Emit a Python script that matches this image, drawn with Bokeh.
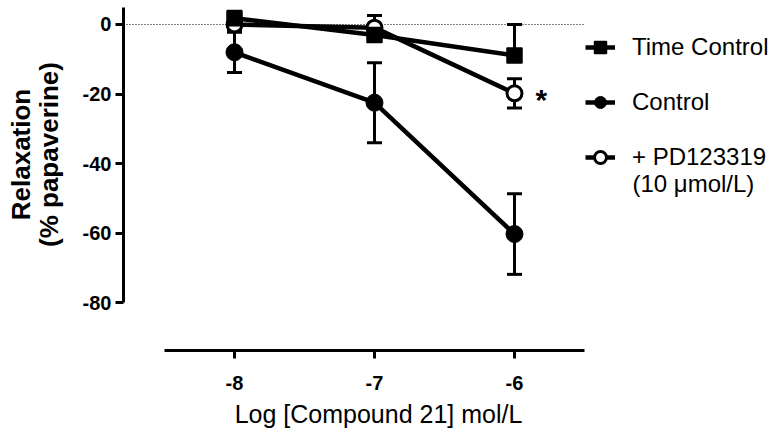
import math
from bokeh.plotting import figure
from bokeh.models import (ColumnDataSource, Whisker, TeeHead, Legend, LegendItem,
                          Label, Range1d, FixedTicker)
from bokeh.embed import file_html
from bokeh.resources import INLINE

# ---------------- data ----------------
log_conc = [-8, -7, -6]
x_ticks = [-8, -7, -6]
y_ticks = [0, -20, -40, -60, -80]

time_control = [1.8, -3.0, -8.9]
time_control_err = [2.0, 2.0, 8.9]
control = [-8.0, -22.5, -60.3]
control_err = [5.8, 11.5, 11.6]
pd123319 = [0.0, -0.9, -19.8]
pd123319_err = [1.5, 3.5, 4.2]

series_labels = ["Time Control", "Control", "+ PD123319"]
pd_label_line2 = "(10 \u03bcmol/L)"
signif_mark = "*"
x_label = "Log [Compound 21] mol/L"
y_label_lines = ["Relaxation", "(% papaverine)"]

# ---------------- layout constants ----------------
W, H = 773, 430
X_START, X_END = -9.6714, -4.15
Y_START, Y_END = -116.83, 6.906
Y_AXIS_AT = -8.7929          # data x where the (detached) y axis sits
X_AXIS_AT = -93.81           # data y where the (detached) x axis sits
X_AXIS_BOUNDS = (-8.5, -5.5)
Y_AXIS_BOUNDS = (-80, 4.9)
FONT = "Liberation Sans"

p = figure(width=W, height=H, output_backend="svg", toolbar_location=None,
           x_range=Range1d(X_START, X_END), y_range=Range1d(Y_START, Y_END),
           min_border_left=0, min_border_right=0, min_border_top=0,
           min_border_bottom=0)
p.grid.visible = False
p.outline_line_color = None
p.background_fill_color = "white"
p.border_fill_color = "white"

xa = p.xaxis[0]
ya = p.yaxis[0]
xa.fixed_location = X_AXIS_AT
ya.fixed_location = Y_AXIS_AT
xa.ticker = FixedTicker(ticks=x_ticks)
ya.ticker = FixedTicker(ticks=y_ticks)
xa.major_label_overrides = {t: str(t) for t in x_ticks}
ya.major_label_overrides = {t: str(t) for t in y_ticks}
xa.bounds = X_AXIS_BOUNDS
ya.bounds = Y_AXIS_BOUNDS
for ax in (xa, ya):
    ax.axis_line_width = 3
    ax.axis_line_color = "black"
    ax.major_tick_line_width = 3
    ax.major_tick_line_color = "black"
    ax.major_tick_out = 8
    ax.major_tick_in = 0
    ax.minor_tick_line_color = None
    ax.major_label_text_font = FONT
    ax.major_label_text_font_style = "bold"
    ax.major_label_text_font_size = "20px"
    ax.major_label_text_color = "black"
xa.major_label_standoff = 17
ya.major_label_standoff = 4

# axis titles
p.add_layout(Label(x=sum(X_AXIS_BOUNDS) / 2, x_offset=4, y=H - 413,
                   y_units="screen", text=x_label, text_font=FONT,
                   text_font_size="25px", text_align="center",
                   text_baseline="middle", text_color="black"))
for txt, sx in zip(y_label_lines, [20, 48]):
    p.add_layout(Label(x=sx, x_units="screen", y=H - 154, y_units="screen",
                       text=txt, text_font=FONT, text_font_size="26px",
                       text_font_style="bold", angle=math.pi / 2,
                       text_align="center", text_baseline="middle",
                       text_color="black"))

# dotted zero reference line
zero_x = [Y_AXIS_AT, X_AXIS_BOUNDS[1]]
zero_y = [0, 0]
p.line(zero_x, zero_y, line_dash="1 2", line_width=1.2, line_color="black")


def make_source(vals, errs, upper_only=False):
    upper = [v + e for v, e in zip(vals, errs)]
    lower = list(vals) if upper_only else [v - e for v, e in zip(vals, errs)]
    return ColumnDataSource(dict(x=log_conc, y=vals, upper=upper, lower=lower))


src_c = make_source(control, control_err)
src_pd = make_source(pd123319, pd123319_err)
src_tc = make_source(time_control, time_control_err, upper_only=True)


def add_whisker(src, lower_head=True):
    head = dict(size=15, line_width=3, line_color="black")
    w = Whisker(source=src, base="x", upper="upper", lower="lower",
                dimension="height", line_width=3, line_color="black",
                upper_head=TeeHead(**head),
                lower_head=TeeHead(**head) if lower_head else None)
    p.add_layout(w)


add_whisker(src_c)
add_whisker(src_pd)
add_whisker(src_tc, lower_head=False)

LW = 4.5
c_line = p.line("x", "y", source=src_c, line_width=LW, line_color="black")
c_pts = p.scatter("x", "y", source=src_c, marker="circle", size=17,
                  fill_color="black", line_color="black", line_width=1)
pd_line = p.line("x", "y", source=src_pd, line_width=LW, line_color="black")
pd_pts = p.scatter("x", "y", source=src_pd, marker="circle", size=15,
                   fill_color="white", line_color="black", line_width=3)
tc_line = p.line("x", "y", source=src_tc, line_width=LW, line_color="black")
tc_pts = p.scatter("x", "y", source=src_tc, marker="square", size=15,
                   fill_color="black", line_color="black", line_width=1.5)

legend = Legend(items=[
    LegendItem(label=series_labels[0], renderers=[tc_line, tc_pts]),
    LegendItem(label=series_labels[1], renderers=[c_line, c_pts]),
    LegendItem(label=series_labels[2], renderers=[pd_line, pd_pts]),
], location=(585, H - 172), glyph_width=30, glyph_height=30, label_height=30,
    spacing=25, padding=0, margin=0, label_standoff=17,
    border_line_color=None, background_fill_alpha=0,
    label_text_font=FONT, label_text_font_size="24px", label_text_color="black")
p.add_layout(legend)

p.add_layout(Label(x=632, y=H - 183, x_units="screen", y_units="screen",
                   text=pd_label_line2, text_font=FONT, text_font_size="24px",
                   text_baseline="middle", text_align="left", text_color="black"))

p.add_layout(Label(x=log_conc[2], y=pd123319[2], x_offset=21, y_offset=-6,
                   text=signif_mark, text_font=FONT, text_font_size="30px",
                   text_font_style="bold", text_baseline="middle",
                   text_align="left", text_color="black"))

open("out.html", "w").write(file_html(p, INLINE))
